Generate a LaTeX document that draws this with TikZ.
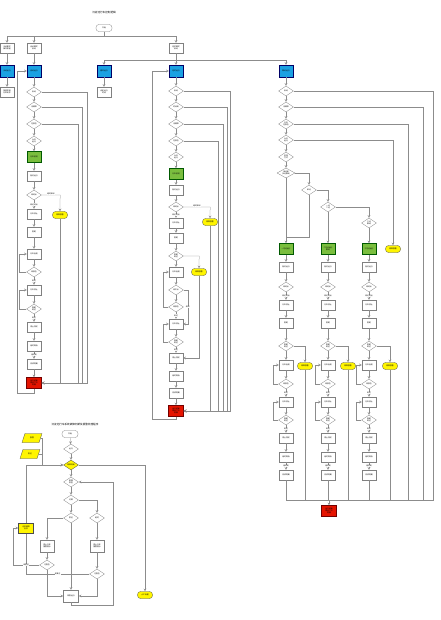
\documentclass[tikz,border=0pt]{standalone}
\usepackage{fontspec}
\newfontfamily\cjk{Noto Sans CJK SC}
\usetikzlibrary{shapes.geometric, arrows}
\definecolor{modeblue}{RGB}{27,161,226}
\definecolor{rungreen}{RGB}{122,190,62}
\definecolor{endred}{RGB}{229,20,0}
\definecolor{warnyellow}{RGB}{255,245,0}
\newcommand{\boxfont}{\cjk\fontsize{1.8}{2.1}\selectfont}
\newcommand{\titlefont}{\cjk\fontsize{2.6}{3}\selectfont}
\tikzstyle{title} = [font=\titlefont]
\tikzstyle{box} = [rectangle, minimum width=14pt, minimum height=10pt, inner sep=0.5pt, align=center, draw=black!50, line width=0.3pt, fill=white, font=\boxfont]
\tikzstyle{dec} = [diamond, aspect=1.5, minimum width=15pt, minimum height=10pt, inner sep=0pt, align=center, draw=black!50, line width=0.3pt, fill=white, font=\boxfont]
\tikzstyle{ydec} = [dec, fill=warnyellow, draw=black!70]
\tikzstyle{modebox} = [box, minimum height=12pt, fill=modeblue, draw=blue!40!black]
\tikzstyle{runbox} = [box, minimum height=11pt, fill=rungreen, draw=green!35!black]
\tikzstyle{endbox} = [box, minimum width=15pt, minimum height=11pt, fill=endred, draw=red!45!black]
\tikzstyle{alarm} = [rectangle, rounded corners=3pt, minimum width=15pt, minimum height=7pt, inner sep=0.5pt, draw=black!70, line width=0.3pt, fill=warnyellow, font=\boxfont]
\tikzstyle{term} = [rectangle, rounded corners=3pt, minimum width=16pt, minimum height=7pt, inner sep=0.5pt, draw=black!50, line width=0.3pt, fill=white, font=\boxfont]
\tikzstyle{inbox} = [trapezium, trapezium left angle=70, trapezium right angle=110, trapezium stretches=true, minimum width=20pt, minimum height=9pt, inner sep=0.5pt, draw=black!70, line width=0.3pt, fill=warnyellow, font=\boxfont]
\tikzstyle{memo} = [rectangle, minimum width=15pt, minimum height=10pt, inner sep=0.5pt, align=center, draw=black!70, line width=0.3pt, fill=warnyellow, font=\boxfont]
\tikzstyle{lbl} = [font=\boxfont, fill=white, inner sep=0.3pt]
\tikzstyle{arrow} = [draw=black!45, line width=0.25pt, ->, >=stealth]
\tikzstyle{link} = [draw=black!45, line width=0.25pt]

\begin{document}
\begin{tikzpicture}[x=1pt, y=-1pt, node distance=18pt]
\useasboundingbox (0,0) rectangle (440,620);
\fill[white] (0,0) rectangle (440,620);

% control logic, top
\node (title1) [title] at (104,13) {沉淀池行车控制逻辑};
\node (start) [term] at (104,28) {开始};
\node (mode1) [box] at (7,48) {手动模式\\操作按钮};
\node (mode2) [box] at (34,48) {自动模式\\启动};
\node (mode3) [box] at (176,48) {定时模式\\启动};
\node (man) [modebox, below of=mode1, node distance=23pt] {手动运行};
\node (auto) [modebox, below of=mode2, node distance=23pt] {自动运行};
\node (timer) [modebox, below of=mode3, node distance=23pt] {定时运行};
\node (cycle) [modebox] at (104,71) {循环运行};
\node (link) [modebox] at (286,71) {联动运行};
\node (manop) [box, below of=man, node distance=21pt] {按钮控制\\行车动作};
\node (settime) [box, below of=cycle, node distance=21pt] {设定运行\\时间};
\coordinate (hub1) at (104,36);
\coordinate (hub2) at (176,60);

\draw [link] (start) -- (hub1);
\draw [arrow] (hub1) -| (mode1);
\draw [arrow] (hub1) -| (mode2);
\draw [arrow] (hub1) -| (mode3);
\draw [arrow] (mode1) -- (man);
\draw [arrow] (mode2) -- (auto);
\draw [link] (mode3) -- (hub2);
\draw [arrow] (hub2) -- (timer);
\draw [arrow] (hub2) -| (cycle);
\draw [arrow] (hub2) -| (link);
\draw [arrow] (man) -- (manop);
\draw [arrow] (cycle) -- (settime);

% automatic run
\node (a1) [dec, below of=auto, node distance=21pt] {启动};
\node (a2) [dec, below of=a1, node distance=15pt] {无故障};
\node (a3) [dec, below of=a2, node distance=17pt] {在原位};
\node (a4) [dec, below of=a3, node distance=17pt] {允许\\运行};
\node (a5) [runbox, below of=a4, node distance=16pt] {行车前进};
\node (a6) [box, below of=a5, node distance=19pt] {刮泥运行};
\node (a7) [dec, below of=a6, node distance=19pt] {到终点};
\node (a8) [box, below of=a7, node distance=19pt] {行车停止};
\node (a9) [box, below of=a8] {提耙};
\node (a10) [box, below of=a9, node distance=22pt] {行车后退};
\node (a11) [dec, below of=a10] {到原位};
\node (a12) [box, below of=a11] {行车停止};
\node (a13) [dec, below of=a12, node distance=19pt] {落耙\\到位};
\node (a14) [box, below of=a13] {停止排泥};
\node (a15) [box, below of=a14, node distance=19pt] {延时等待};
\node (a16) [box, below of=a15] {完成周期};
\node (a17) [endbox, below of=a16, node distance=19pt] {运行结束\\等待下次\\周期};
\node (a7al) [alarm] at (60,215) {故障报警};
\coordinate (aloop) at (17,393);

\draw [arrow] (auto) -- (a1);
\draw [arrow] (a1) -- (a2);
\draw [arrow] (a2) -- (a3);
\draw [arrow] (a3) -- (a4);
\draw [arrow] (a4) -- (a5);
\draw [arrow] (a5) -- (a6);
\draw [arrow] (a6) -- (a7);
\draw [arrow] (a7) -- node[lbl] {到达终点} (a8);
\draw [arrow] (a8) -- (a9);
\draw [arrow] (a9) -- (a10);
\draw [arrow] (a10) -- (a11);
\draw [arrow] (a11) -- node[lbl] {到达} (a12);
\draw [arrow] (a11.west) -- ++(-7,0) |- (a10.west);
\draw [arrow] (a12) -- (a13);
\draw [arrow] (a13) -- node[lbl] {到位} (a14);
\draw [arrow] (a13.west) -- ++(-7,0) |- (a12.west);
\draw [arrow] (a14) -- (a15);
\draw [arrow] (a15) -- node[lbl] {延时到} (a16);
\draw [arrow] (a16) -- (a17);
\draw [arrow] (a7.east) -- node[lbl, above] {超时未到} ++(18.5,0) -- (a7al);
\draw [arrow] (a7al) |- (a17.east);
\draw [arrow] (a1.east) -- ++(45,0) |- (a17.east);
\draw [arrow] (a2.east) -- ++(40,0) |- (a17.east);
\draw [arrow] (a3.east) -- ++(36,0) |- (a17.east);
\draw [arrow] (a17.south) |- (aloop) |- (auto.west);

% timed run
\node (b1) [dec, below of=timer, node distance=20pt] {启动};
\node (b2) [dec, below of=b1, node distance=16pt] {时间到};
\node (b3) [dec, below of=b2, node distance=17pt] {无故障};
\node (b4) [dec, below of=b3, node distance=17pt] {在原位};
\node (b5) [dec, below of=b4, node distance=16pt] {允许\\运行};
\node (b6) [runbox, below of=b5, node distance=17pt] {行车前进};
\node (b7) [box, below of=b6, node distance=16pt] {刮泥运行};
\node (b8) [dec, below of=b7, node distance=17pt] {到终点};
\node (b9) [box, below of=b8, node distance=16pt] {行车停止};
\node (b10) [box, below of=b9, node distance=15pt] {提耙};
\node (b11) [dec, below of=b10] {提耙\\到位};
\node (b12) [box, below of=b11, node distance=16pt] {行车后退};
\node (b13) [dec, below of=b12] {到中点};
\node (b14) [dec, below of=b13, node distance=17pt] {到原位};
\node (b15) [box, below of=b14, node distance=17pt] {行车停止};
\node (b16) [dec, below of=b15] {落耙\\到位};
\node (b17) [box, below of=b16, node distance=16pt] {停止排泥};
\node (b18) [box, below of=b17] {延时等待};
\node (b19) [box, below of=b18, node distance=17pt] {完成周期};
\node (b20) [endbox, below of=b19] {运行结束\\等待下次\\周期};
\node (b8al) [alarm] at (210,222) {故障报警};
\node (b11al) [alarm] at (199,272) {故障报警};
\coordinate (bloop) at (152,419);

\draw [arrow] (timer) -- (b1);
\draw [arrow] (b1) -- (b2);
\draw [arrow] (b2) -- (b3);
\draw [arrow] (b3) -- (b4);
\draw [arrow] (b4) -- (b5);
\draw [arrow] (b5) -- (b6);
\draw [arrow] (b6) -- (b7);
\draw [arrow] (b7) -- (b8);
\draw [arrow] (b8) -- node[lbl] {到达终点} (b9);
\draw [arrow] (b9) -- (b10);
\draw [arrow] (b10) -- (b11);
\draw [arrow] (b11) -- (b12);
\draw [arrow] (b12) -- (b13);
\draw [arrow] (b13) -- (b14);
\draw [arrow] (b14) -- node[lbl] {到达} (b15);
\draw [arrow] (b14.west) -- ++(-5,0) |- (b12.west);
\draw [arrow] (b13.east) -- ++(4,0) |- node[lbl, pos=0.25] {未到} (b15.east);
\draw [arrow] (b15) -- (b16);
\draw [arrow] (b16) -- node[lbl] {到位} (b17);
\draw [arrow] (b16.west) -- ++(-5,0) |- (b15.west);
\draw [arrow] (b17) -- (b18);
\draw [arrow] (b18) -- (b19);
\draw [arrow] (b19) -- (b20);
\draw [arrow] (b8.east) -- node[lbl, above] {超时未到} ++(26.5,0) -- (b8al);
\draw [arrow] (b8al) |- (b20.east);
\draw [arrow] (b11.east) -- ++(15.5,0) -- (b11al);
\draw [arrow] (b11al) |- (b17.east);
\draw [arrow] (b1.east) -- ++(46.5,0) |- (b20.east);
\draw [arrow] (b2.east) -- ++(43.5,0) |- (b20.east);
\draw [arrow] (b3.east) -- ++(39.5,0) |- (b20.east);
\draw [arrow] (b4.east) -- ++(34.5,0) |- (b20.east);
\draw [arrow] (b20.south) |- (bloop) |- (timer.west);

% linked run
\node (c1) [dec, below of=link, node distance=20pt] {启动};
\node (c2) [dec, below of=c1, node distance=16pt] {无故障};
\node (c3) [dec, below of=c2, node distance=17pt] {行车\\在原位};
\node (c4) [dec, below of=c3, node distance=16pt] {允许\\运行};
\node (c5) [dec, below of=c4, node distance=17pt] {选择\\方式};
\node (c6) [dec, minimum width=18pt, below of=c5, node distance=16pt] {单池或\\多池联动};
\node (da) [dec] at (309,190) {单池};
\node (db) [dec] at (328,207) {一池\\二池};
\node (dc) [dec] at (369,223) {三池\\联动};
\node (g1) [runbox] at (286,249) {一号池运行};
\node (g2) [runbox] at (328,249) {二号池运行\\联动};
\node (g3) [runbox] at (369,249) {三号池运行};
\node (calarm) [alarm] at (393,249) {故障报警};
\node (cend) [endbox] at (329,511) {运行结束\\等待下次\\周期};
\coordinate (cjoin) at (286,237);
\coordinate (cbus) at (329,500);

\draw [arrow] (link) -- (c1);
\draw [arrow] (c1) -- (c2);
\draw [arrow] (c2) -- (c3);
\draw [arrow] (c3) -- (c4);
\draw [arrow] (c4) -- (c5);
\draw [arrow] (c5) -- (c6);
\draw [arrow] (c6) -- (g1);
\draw [arrow] (c6.east) -| (da);
\draw [arrow] (da.east) -| (db);
\draw [arrow] (db.east) -| (dc);
\draw [link] (da.south) |- (cjoin);
\draw [arrow] (db) -- (g2);
\draw [arrow] (dc) -- (g3);
\draw [arrow] (c4.east) -| (calarm);
\draw [link] (c1.east) -- ++(139.5,0) |- (cbus);
\draw [link] (c2.east) -- ++(129.5,0) |- (cbus);
\draw [link] (c3.east) -- ++(114.5,0) |- (cbus);
\draw [arrow] (cbus) -- (cend);

% pool 1
\node (s1scrape) [box, below of=g1] {刮泥运行};
\node (s1end) [dec, below of=s1scrape, node distance=20pt] {到终点};
\node (s1stop) [box, below of=s1end] {行车停止};
\node (s1lift) [box, below of=s1stop] {提耙};
\node (s1up) [dec, below of=s1lift, node distance=23pt] {提耙\\到位};
\node (s1back) [box, below of=s1up, node distance=19pt] {行车后退};
\node (s1home) [dec, below of=s1back, node distance=19pt] {到原位};
\node (s1halt) [box, below of=s1home] {行车停止};
\node (s1down) [dec, below of=s1halt] {落耙\\到位};
\node (s1drain) [box, below of=s1down] {停止排泥};
\node (s1wait) [box, below of=s1drain, node distance=19pt] {延时等待};
\node (s1done) [box, below of=s1wait] {完成周期};
\node (s1alarm) [alarm] at (305,366) {故障报警};

\draw [arrow] (g1) -- (s1scrape);
\draw [arrow] (s1scrape) -- (s1end);
\draw [arrow] (s1end) -- node[lbl] {到达终点} (s1stop);
\draw [arrow] (s1stop) -- (s1lift);
\draw [arrow] (s1lift) -- (s1up);
\draw [arrow] (s1up) -- (s1back);
\draw [arrow] (s1up.east) -| (s1alarm);
\draw [arrow] (s1back) -- (s1home);
\draw [arrow] (s1home) -- node[lbl] {到达} (s1halt);
\draw [arrow] (s1home.west) -- ++(-5,0) |- (s1back.west);
\draw [arrow] (s1halt) -- (s1down);
\draw [arrow] (s1down) -- node[lbl] {到位} (s1drain);
\draw [arrow] (s1down.west) -- ++(-5,0) |- (s1halt.west);
\draw [arrow] (s1drain) -- (s1wait);
\draw [arrow] (s1wait) -- node[lbl] {延时到} (s1done);
\draw [link] (s1alarm) |- (cbus);
\draw [link] (s1done) |- (cbus);

% pool 2
\node (s2scrape) [box, below of=g2] {刮泥运行};
\node (s2end) [dec, below of=s2scrape, node distance=20pt] {到终点};
\node (s2stop) [box, below of=s2end] {行车停止};
\node (s2lift) [box, below of=s2stop] {提耙};
\node (s2up) [dec, below of=s2lift, node distance=23pt] {提耙\\到位};
\node (s2back) [box, below of=s2up, node distance=19pt] {行车后退};
\node (s2home) [dec, below of=s2back, node distance=19pt] {到原位};
\node (s2halt) [box, below of=s2home] {行车停止};
\node (s2down) [dec, below of=s2halt] {落耙\\到位};
\node (s2drain) [box, below of=s2down] {停止排泥};
\node (s2wait) [box, below of=s2drain, node distance=19pt] {延时等待};
\node (s2done) [box, below of=s2wait] {完成周期};
\node (s2alarm) [alarm] at (348,366) {故障报警};

\draw [arrow] (g2) -- (s2scrape);
\draw [arrow] (s2scrape) -- (s2end);
\draw [arrow] (s2end) -- node[lbl] {到达终点} (s2stop);
\draw [arrow] (s2stop) -- (s2lift);
\draw [arrow] (s2lift) -- (s2up);
\draw [arrow] (s2up) -- (s2back);
\draw [arrow] (s2up.east) -| (s2alarm);
\draw [arrow] (s2back) -- (s2home);
\draw [arrow] (s2home) -- node[lbl] {到达} (s2halt);
\draw [arrow] (s2home.west) -- ++(-5,0) |- (s2back.west);
\draw [arrow] (s2halt) -- (s2down);
\draw [arrow] (s2down) -- node[lbl] {到位} (s2drain);
\draw [arrow] (s2down.west) -- ++(-5,0) |- (s2halt.west);
\draw [arrow] (s2drain) -- (s2wait);
\draw [arrow] (s2wait) -- node[lbl] {延时到} (s2done);
\draw [link] (s2alarm) |- (cbus);
\draw [link] (s2done) |- (cbus);

% pool 3
\node (s3scrape) [box, below of=g3] {刮泥运行};
\node (s3end) [dec, below of=s3scrape, node distance=20pt] {到终点};
\node (s3stop) [box, below of=s3end] {行车停止};
\node (s3lift) [box, below of=s3stop] {提耙};
\node (s3up) [dec, below of=s3lift, node distance=23pt] {提耙\\到位};
\node (s3back) [box, below of=s3up, node distance=19pt] {行车后退};
\node (s3home) [dec, below of=s3back, node distance=19pt] {到原位};
\node (s3halt) [box, below of=s3home] {行车停止};
\node (s3down) [dec, below of=s3halt] {落耙\\到位};
\node (s3drain) [box, below of=s3down] {停止排泥};
\node (s3wait) [box, below of=s3drain, node distance=19pt] {延时等待};
\node (s3done) [box, below of=s3wait] {完成周期};
\node (s3alarm) [alarm] at (390,366) {故障报警};

\draw [arrow] (g3) -- (s3scrape);
\draw [arrow] (s3scrape) -- (s3end);
\draw [arrow] (s3end) -- node[lbl] {到达终点} (s3stop);
\draw [arrow] (s3stop) -- (s3lift);
\draw [arrow] (s3lift) -- (s3up);
\draw [arrow] (s3up) -- (s3back);
\draw [arrow] (s3up.east) -| (s3alarm);
\draw [arrow] (s3back) -- (s3home);
\draw [arrow] (s3home) -- node[lbl] {到达} (s3halt);
\draw [arrow] (s3home.west) -- ++(-5,0) |- (s3back.west);
\draw [arrow] (s3halt) -- (s3down);
\draw [arrow] (s3down) -- node[lbl] {到位} (s3drain);
\draw [arrow] (s3down.west) -- ++(-5,0) |- (s3halt.west);
\draw [arrow] (s3drain) -- (s3wait);
\draw [arrow] (s3wait) -- node[lbl] {延时到} (s3done);
\draw [link] (s3alarm) |- (cbus);
\draw [link] (s3done) |- (cbus);

% fault handling
\node (title2) [title] at (75,425) {沉淀池行车系统故障判断及报警处理程序};
\node (fstart) [term] at (70,434) {开始};
\node (f1) [dec] at (71,449) {运行};
\node (f2) [ydec] at (71,465) {故障判断};
\node (in1) [inbox] at (32,438) {报警};
\node (in2) [inbox] at (30,454) {复位};
\node (f3) [dec] at (71,482) {故障\\类型};
\node (f4) [dec] at (71,500) {过载};
\node (f5) [dec] at (71,518) {限位};
\node (f6) [dec] at (97,518) {超时};
\node (e1) [box, minimum height=12pt] at (47,546) {停止行车\\报警提示};
\node (e2) [box, minimum height=12pt] at (97,546) {停止行车\\报警提示};
\node (f7) [dec] at (47,565) {已复位};
\node (f8) [dec] at (97,574) {已复位};
\node (e3) [box, minimum width=15pt, minimum height=12pt] at (71,596) {恢复运行};
\node (fhand) [alarm] at (145,595) {人工处理};
\coordinate (fin) at (42,465);
\coordinate (fback) at (113,605);

\draw [arrow] (fstart) -- (f1);
\draw [arrow] (f1) -- (f2);
\draw [link] (in1.east) -| (fin);
\draw [link] (in2.east) -| (fin);
\draw [arrow] (fin) -- (f2.west);
\draw [arrow] (f2.east) -| (fhand);
\draw [arrow] (f2) -- (f3);
\draw [arrow] (f3) -- (f4);
\draw [arrow] (f4) -- (f5);
\draw [arrow] (f4.east) -| (f6);
\draw [arrow] (f5.west) -| (e1);
\draw [arrow] (f5) -- (e3);
\draw [arrow] (f6) -- (e2);
\draw [arrow] (e1) -- (f7);
\draw [arrow] (e2) -- (f8);
\draw [arrow] (f8.west) -- node[lbl] {未复位} ++(-63.5,0) |- (f2.west);
\node (note) [memo] at (26,528) {记录故障\\信息};
\draw [arrow] (f7.west) -- node[lbl] {未复位} ++(-26.5,0) |- (note.west);
\draw [arrow] (f7.south) |- (e3.west);
\draw [arrow] (f8.south) |- (e3.east);
\draw [arrow] (e3.south) |- (fback) |- (f3.east);
\end{tikzpicture}
\end{document}
